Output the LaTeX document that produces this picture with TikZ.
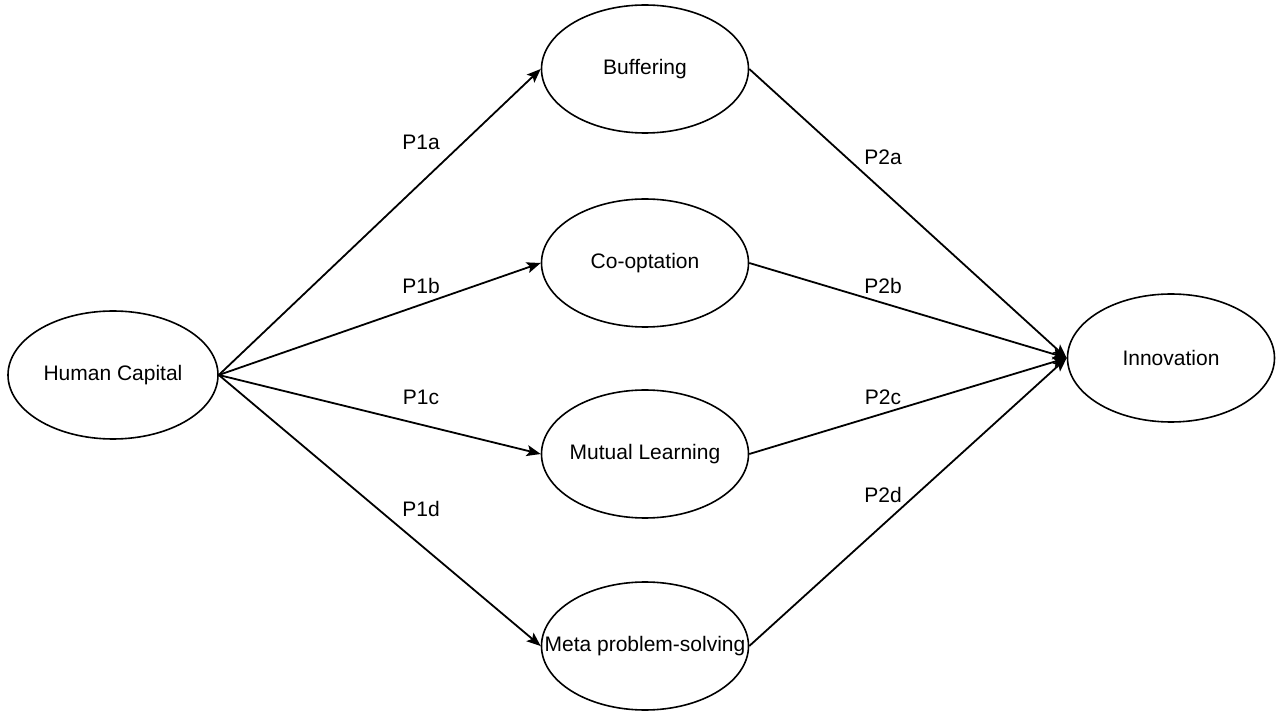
\documentclass[tikz,border=0pt]{standalone}
\usepackage{fontspec}
\setmainfont{Liberation Sans}
\usetikzlibrary{arrows.meta,shapes.geometric}

\begin{document}
\begin{tikzpicture}[x=0.5pt, y=-0.5pt, every node/.style={font=\fontsize{10.5}{12}\selectfont}, >={Stealth[length=7pt,width=5.5pt,inset=1.5pt]},
	construct/.style={draw, ellipse, line width=0.8pt, inner sep=0pt, minimum width=103.5pt, minimum height=64pt},
	link/.style={->, line width=0.9pt}]
	\useasboundingbox (0,0) rectangle (1276,711);
	\node[construct, minimum width=105pt, label=center:{Human Capital}] (hc) at (113,375) {};
	\node[construct, label=center:{Buffering}] (buf) at (645,69) {};
	\node[construct, label=center:{Co-optation}] (coopt) at (645,263) {};
	\node[construct, label=center:{Mutual Learning}] (mutual) at (645,454) {};
	\node[construct, label=center:{Meta problem-solving}] (meta) at (645,646) {};
	\node[construct, label=center:{Innovation}] (innov) at (1171,358) {};
	\draw[link] (hc.east) -- (buf.west);
	\draw[link] (hc.east) -- (coopt.west);
	\draw[link] (hc.east) -- (mutual.west);
	\draw[link] (hc.east) -- (meta.west);
	\draw[link] (buf.east) -- (innov.west);
	\draw[link] (coopt.east) -- (innov.west);
	\draw[link] (mutual.east) -- (innov.west);
	\draw[link] (meta.east) -- (innov.west);
	\node (p1a) at (421,142) {P1a};
	\node (p1b) at (421,286) {P1b};
	\node (p1c) at (421,397) {P1c};
	\node (p1d) at (421,509) {P1d};
	\node (p2a) at (883,157) {P2a};
	\node (p2b) at (883,286) {P2b};
	\node (p2c) at (883,397) {P2c};
	\node (p2d) at (883,495) {P2d};
\end{tikzpicture}
\end{document}
